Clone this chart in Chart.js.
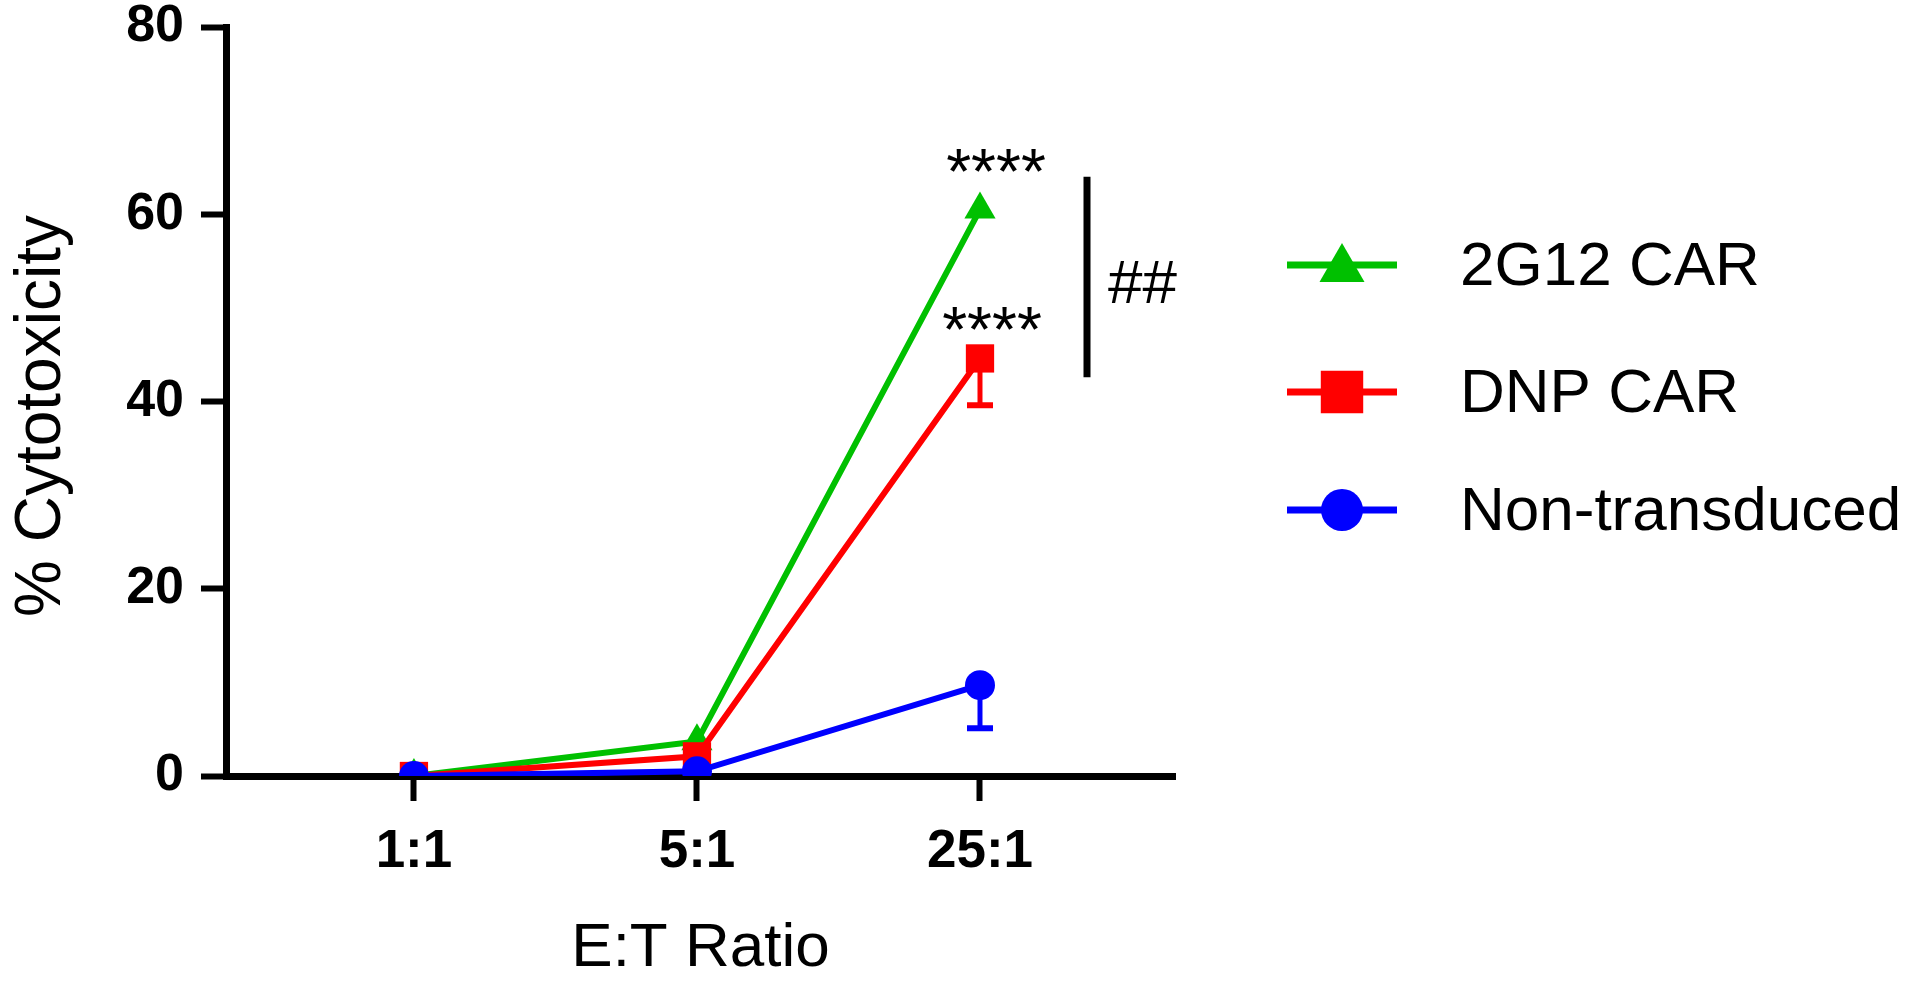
<!DOCTYPE html>
<html>
<head>
<meta charset="utf-8">
<script src="https://cdn.jsdelivr.net/npm/chart.js@4/dist/chart.umd.min.js"></script>
<style>
html, body { margin: 0; padding: 0; background: #fff; }
#wrap { width: 1920px; height: 988px; position: relative; }
</style>
</head>
<body>
<div id="wrap"><canvas id="myChart"></canvas></div>
<script>
// data
var ratioLabels = ['1:1', '5:1', '25:1'];
var ratioPos = [1, 2, 3];
var car2g12 = [0, 3.7, 60.5];
var car2g12Err = [0, 0, 0];
var dnpCar = [0, 2.1, 44.6];
var dnpCarErr = [0, 0, 5.0];
var nonTrans = [0, 0.5, 9.7];
var nonTransErr = [0, 0, 4.6];
var yTicks = [0, 20, 40, 60, 80];
var yTitle = '% Cytotoxicity';
var xTitle = 'E:T Ratio';
var starText = '****';
var bracketRange = [42.6, 64];
var bracketText = '##';

var FONT = '"Liberation Sans", Arial, sans-serif';
var legendRows = [265, 392, 510];

function toPoints(vals){
    return vals.map(function(v, i){ return { x: ratioPos[i], y: v }; });
}

function drawMarker(ctx, style, r, x, y, color){
    ctx.save();
    ctx.fillStyle = color;
    ctx.beginPath();
    if (style === 'triangle') {
        ctx.moveTo(x, y - r);
        ctx.lineTo(x + r * Math.sin(Math.PI * 2 / 3), y - r * Math.cos(Math.PI * 2 / 3));
        ctx.lineTo(x - r * Math.sin(Math.PI * 2 / 3), y - r * Math.cos(Math.PI * 2 / 3));
        ctx.closePath();
    } else if (style === 'rect') {
        var s = Math.SQRT1_2 * r;
        ctx.rect(x - s, y - s, 2 * s, 2 * s);
    } else {
        ctx.arc(x, y, r, 0, Math.PI * 2);
    }
    ctx.fill();
    ctx.restore();
}

var errorBars = {
    id: 'errorBars',
    beforeDatasetsDraw: function(chart){
        var ctx = chart.ctx;
        var xs = chart.scales.x, ys = chart.scales.y;
        chart.data.datasets.forEach(function(ds){
            ds.err.forEach(function(e, j){
                if (!e) return;
                var v = ds.data[j].y;
                var x = xs.getPixelForValue(ds.data[j].x);
                var y0 = ys.getPixelForValue(v);
                var y1 = ys.getPixelForValue(v - e);
                ctx.save();
                ctx.strokeStyle = ds.borderColor;
                ctx.lineWidth = 5;
                ctx.beginPath();
                ctx.moveTo(x, y0);
                ctx.lineTo(x, y1);
                ctx.stroke();
                ctx.lineWidth = 6;
                ctx.beginPath();
                ctx.moveTo(x - 13, y1);
                ctx.lineTo(x + 13, y1);
                ctx.stroke();
                ctx.restore();
            });
        });
    }
};

var annotations = {
    id: 'annotations',
    afterDatasetsDraw: function(chart){
        var ctx = chart.ctx;
        var xs = chart.scales.x, ys = chart.scales.y;
        var x3 = xs.getPixelForValue(ratioPos[2]);
        ctx.save();
        ctx.fillStyle = '#000';
        ctx.textAlign = 'center';
        ctx.textBaseline = 'alphabetic';
        ctx.font = '64px ' + FONT;
        ctx.fillText(starText, x3 + 16, ys.getPixelForValue(car2g12[2]) - 16);
        ctx.fillText(starText, x3 + 12, ys.getPixelForValue(dnpCar[2]) - 6);
        // bracket between the two CAR groups
        var bx = 1087;
        ctx.strokeStyle = '#000';
        ctx.lineWidth = 7;
        ctx.beginPath();
        ctx.moveTo(bx, ys.getPixelForValue(bracketRange[1]));
        ctx.lineTo(bx, ys.getPixelForValue(bracketRange[0]));
        ctx.stroke();
        ctx.font = '62px ' + FONT;
        ctx.textAlign = 'left';
        ctx.textBaseline = 'middle';
        ctx.fillText(bracketText, 1108, ys.getPixelForValue((bracketRange[0] + bracketRange[1]) / 2) + 9);
        // y axis title
        ctx.translate(42, 416);
        ctx.rotate(-Math.PI / 2);
        ctx.textAlign = 'center';
        ctx.font = '64px ' + FONT;
        ctx.fillText(yTitle, 0, 0);
        ctx.restore();
    }
};

var sideLegend = {
    id: 'sideLegend',
    afterDraw: function(chart){
        var ctx = chart.ctx;
        chart.data.datasets.forEach(function(ds, i){
            var y = legendRows[i];
            ctx.save();
            ctx.strokeStyle = ds.borderColor;
            ctx.lineWidth = 7;
            ctx.beginPath();
            ctx.moveTo(1287, y);
            ctx.lineTo(1397, y);
            ctx.stroke();
            drawMarker(ctx, ds.pointStyle, ds.legendRadius, 1342, y + (ds.pointStyle === 'triangle' ? 4 : 0), ds.borderColor);
            ctx.fillStyle = '#000';
            ctx.font = '62px ' + FONT;
            ctx.textAlign = 'left';
            ctx.textBaseline = 'middle';
            ctx.fillText(ds.label, 1460, y + 3);
            ctx.restore();
        });
    }
};

var ctx = document.getElementById('myChart').getContext('2d');
var chart = new Chart(ctx, {
    type: 'line',
    data: {
        datasets: [
            { label: '2G12 CAR', data: toPoints(car2g12), err: car2g12Err,
              borderColor: '#00c000', backgroundColor: '#00c000',
              pointStyle: 'triangle', pointRadius: 18, pointBorderWidth: 0, legendRadius: 26,
              borderWidth: 6, order: 3 },
            { label: 'DNP CAR', data: toPoints(dnpCar), err: dnpCarErr,
              borderColor: '#ff0000', backgroundColor: '#ff0000',
              pointStyle: 'rect', pointRadius: 20, pointBorderWidth: 0, legendRadius: 30,
              borderWidth: 6, order: 2 },
            { label: 'Non-transduced', data: toPoints(nonTrans), err: nonTransErr,
              borderColor: '#0000ff', backgroundColor: '#0000ff',
              pointStyle: 'circle', pointRadius: 15, pointBorderWidth: 0, legendRadius: 21,
              borderWidth: 6, order: 1 }
        ]
    },
    options: {
        responsive: true,
        maintainAspectRatio: false,
        animation: false,
        layout: { padding: { left: 0, right: 745, top: 27, bottom: 0 } },
        plugins: { legend: { display: false }, tooltip: { enabled: false } },
        scales: {
            x: {
                type: 'linear',
                min: 0.336,
                max: 3.689,
                afterBuildTicks: function(s){ s.ticks = ratioPos.map(function(v){ return { value: v }; }); },
                afterFit: function(s){ s.height = 212; s.paddingLeft = 0; s.paddingRight = 0; },
                ticks: {
                    callback: function(v){ return ratioLabels[ratioPos.indexOf(v)]; },
                    font: { family: FONT, size: 53, weight: 'bold' },
                    color: '#000', padding: 20, maxRotation: 0, autoSkip: false
                },
                grid: { drawOnChartArea: false, drawTicks: true, tickLength: 25, tickWidth: 6, tickColor: '#000' },
                border: { display: true, color: '#000', width: 7 },
                title: { display: true, text: xTitle, color: '#000',
                         font: { family: FONT, size: 62 }, padding: { top: 0, bottom: 2 } }
            },
            y: {
                min: 0,
                max: 80,
                afterBuildTicks: function(s){ s.ticks = yTicks.map(function(v){ return { value: v }; }); },
                afterFit: function(s){ s.width = 226; s.paddingTop = 0; s.paddingBottom = 0; },
                ticks: {
                    font: { family: FONT, size: 52, weight: 'bold' },
                    color: '#000', padding: 17
                },
                grid: { drawOnChartArea: false, drawTicks: true, tickLength: 25, tickWidth: 6, tickColor: '#000' },
                border: { display: true, color: '#000', width: 7 },
                title: { display: false }
            }
        }
    },
    plugins: [errorBars, annotations, sideLegend]
});
</script>
</body>
</html>
